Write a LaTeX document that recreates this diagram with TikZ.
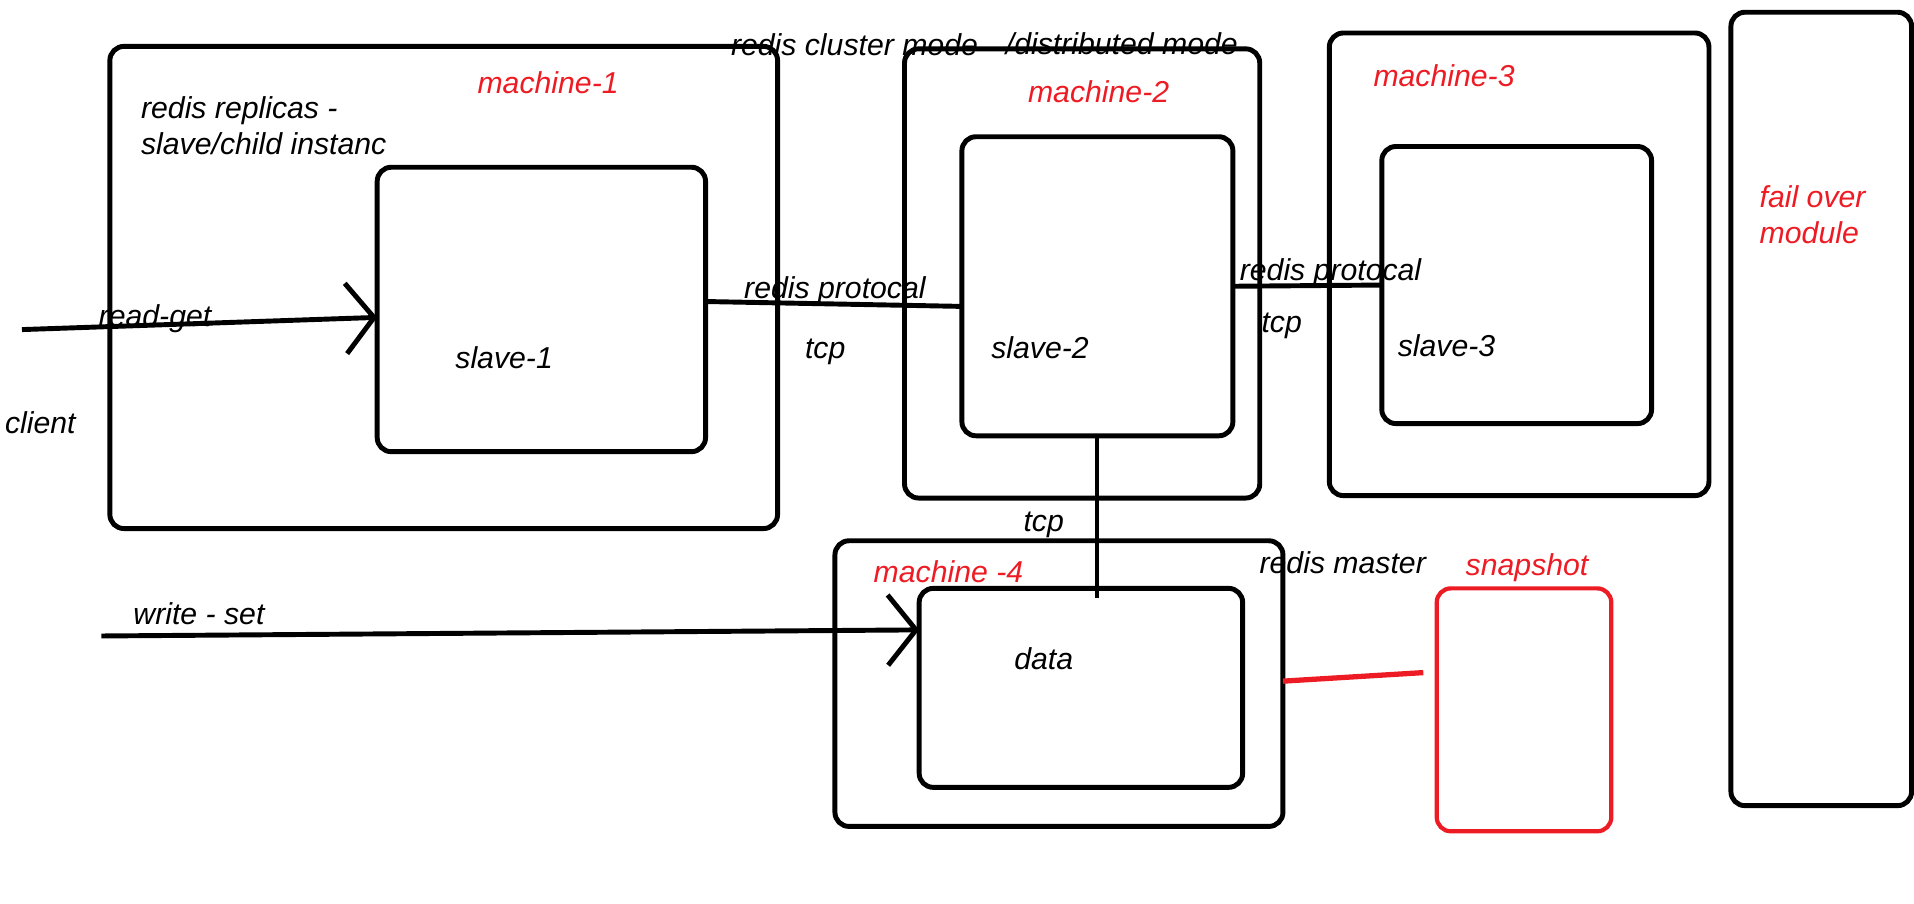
\documentclass[tikz,border=0pt]{standalone}
\usepackage{fontspec}
\setmainfont{Liberation Sans}
\usetikzlibrary{arrows.meta}
\definecolor{paintred}{HTML}{ED1C24}

\begin{document}
\begin{tikzpicture}[x=0.012207cm, y=-0.012207cm]

    \def \u {0.012207cm}

    \tikzset{box/.style={draw, line width=1.4pt, rounded corners=4pt, inner sep=0pt, outer sep=0pt}}
    \tikzset{redbox/.style={box, draw=paintred, line width=1.2pt}}
    \tikzset{lbl/.style={inner sep=0pt, font=\fontsize{8.6}{10.2}\selectfont\itshape}}
    \tikzset{redlbl/.style={lbl, text=paintred}}
    \tikzset{barb/.style={-{Straight Barb[length=8pt,width=20pt]}, line width=1.4pt}}

    \useasboundingbox (0,0) rectangle (1568,740);

    % Draw boxes
    \def \drawbox#1#2#3#4#5#6{\node[#6, minimum width={(#4-#2)*\u}, minimum height={(#5-#3)*\u}] (#1) at ({(#2+#4)/2},{(#3+#5)/2}) {};}
    \foreach \name/\xa/\ya/\xb/\yb in {m1/90/38/637/433, slave1/309/137/578/370,
        m2/741/40/1032/408, slave2/788/112/1010/357, m3/1089/27/1400/406,
        slave3/1132/120/1353/347, failover/1418/10/1566/660,
        m4/684/443/1051/677, data/753/482/1018/645} {
        \drawbox{\name}{\xa}{\ya}{\xb}{\yb}{box}
    }
    \drawbox{snap}{1177}{482}{1320}{681}{redbox}

    % Draw labels
    \foreach \name/\x/\y/\txt in {m1/449/68/machine-1, m2/900/75/machine-2,
        m3/1183/62/machine-3, m4/777/468/machine -4, snap/1251/465/snapshot} {
        \node[redlbl] (\name-lbl) at (\x,\y) {\txt};
    }
    \foreach \name/\x/\y/\txt in {slave1/413/293/slave-1, slave2/852/285/slave-2,
        slave3/1185/283/slave-3, data/855/540/data, read/127/261/read-get,
        client/33/346/client, write/163/503/write - set, master/1100/461/redis master,
        tcp1/676/288/tcp, tcp2/1050/267/tcp, tcp3/855/430/tcp,
        proto1/684/238/redis protocal, proto2/1090/223/redis protocal,
        cluster/700/37/redis cluster mode} {
        \node[lbl] (\name-lbl) at (\x,\y) {\txt};
    }
    \node[lbl] (distrib-lbl) at (919,36) {/distributed mode};
    \node[lbl, anchor=west, align=left] (replicas-lbl) at (115,103) {redis replicas -\\slave/child instanc};
    \node[redlbl, anchor=west, align=left] (failover-lbl) at (1441,176) {fail over\\module};

    % Draw connectors
    \coordinate (read-start) at (18,270);
    \coordinate (write-start) at (83,521);
    \coordinate (tcp-end) at (899,490);
    \coordinate (snap-end) at (1166,551);
    \draw[barb] (read-start) -- (slave1.west |- 0,260);
    \draw[barb] (write-start) -- (data.west |- 0,516);
    \draw[line width=1.4pt] (slave1.east |- 0,247) -- (slave2.west |- 0,251);
    \draw[line width=1.4pt] (slave2.east) -- (slave3.west);
    \draw[line width=1.1pt] (slave2.south) -- (tcp-end);
    \draw[paintred, line width=1.5pt] (m4.east |- 0,558) -- (snap-end);

\end{tikzpicture}
\end{document}
